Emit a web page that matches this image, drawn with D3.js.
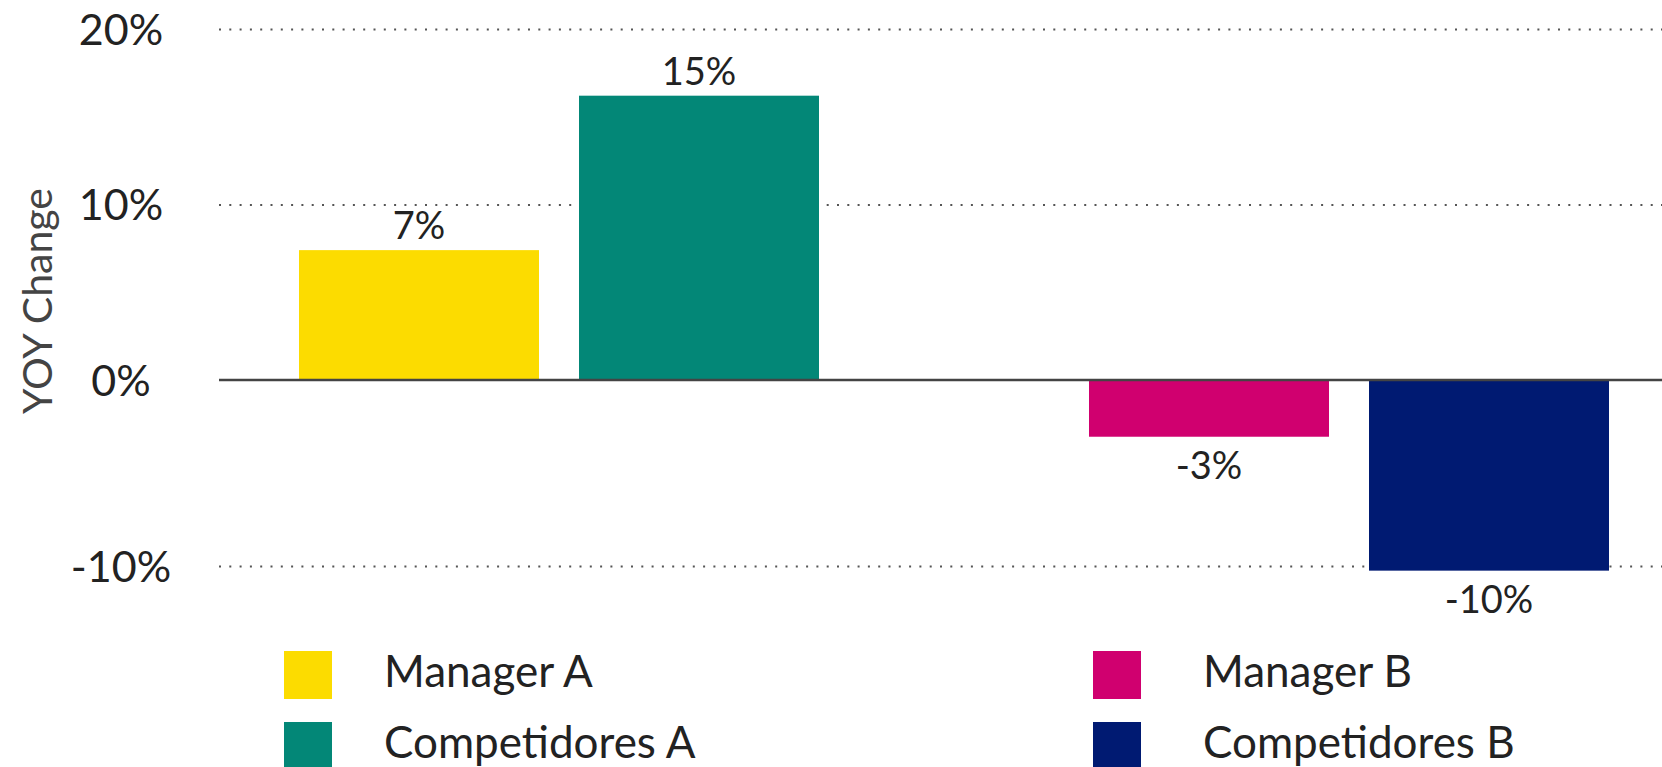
<!DOCTYPE html>
<html>
<head>
<meta charset="utf-8">
<script src="https://cdn.jsdelivr.net/npm/d3@7"></script>
<style>
  html, body { margin: 0; padding: 0; background: #fff; }
  svg { display: block; font-family: Lato, "Open Sans", sans-serif; }
</style>
</head>
<body>
<svg id="chart" width="1662" height="767"></svg>
<script>
// Chart data
const groups = ['A', 'B'];
const roles = ['Manager', 'Competidores'];
const series = ['Manager A', 'Competidores A', 'Manager B', 'Competidores B'];
const seriesGroup = ['A', 'A', 'B', 'B'];
const seriesRole = ['Manager', 'Competidores', 'Manager', 'Competidores'];
const values = [7.4, 16.2, -3.05, -10.25];
const valueLabels = ['7%', '15%', '-3%', '-10%'];
const colors = ['#FCDC00', '#038777', '#D0006F', '#001A72'];
const yTicks = [-10, 0, 10, 20];
const yTitle = 'YOY Change';

var drawChart = function () {
  let svg = d3.select('#chart');
  const width = 1662;
  const plotLeft = 219;

  // the picture's axis is not evenly spaced above/below zero
  let y = d3.scaleLinear()
            .domain([-10, 0, 20])
            .range([566, 380, 29]);

  let x0 = d3.scaleBand()
             .domain(groups)
             .range([299, 1609])
             .paddingInner(270 / 790);

  let x1 = d3.scaleBand()
             .domain(roles)
             .range([0, x0.bandwidth()])
             .paddingInner(1 / 7);

  // dotted gridlines + tick labels
  let grid = svg.append('g')
    .attr('transform', `translate(${plotLeft},0)`)
    .call(d3.axisLeft(y)
      .tickValues(yTicks)
      .tickSize(-(width - plotLeft))
      .tickFormat(d => d + '%'));
  grid.select('.domain').remove();
  grid.selectAll('.tick line')
    .attr('stroke', (d) => d === 0 ? 'none' : '#555')
    .attr('stroke-width', 2)
    .attr('stroke-dasharray', '2,8.3');
  grid.selectAll('.tick text')
    .attr('x', 121 - plotLeft)
    .attr('dy', '0.36em')
    .attr('text-anchor', 'middle')
    .attr('fill', '#222')
    .style('font-size', '43px')
    .style('font-family', 'Lato, sans-serif');

  // y axis title
  svg.append('text')
    .attr('transform', 'translate(52,301) rotate(-90)')
    .attr('text-anchor', 'middle')
    .attr('fill', '#444')
    .style('font-size', '41px')
    .text(yTitle);

  // bars
  let idx = d3.range(series.length);
  svg.selectAll('rect.bar')
    .data(idx)
    .enter().append('rect')
    .attr('class', 'bar')
    .attr('x', i => x0(seriesGroup[i]) + x1(seriesRole[i]))
    .attr('width', x1.bandwidth())
    .attr('y', i => y(Math.max(0, values[i])))
    .attr('height', i => Math.abs(y(values[i]) - y(0)))
    .attr('fill', i => colors[i]);

  // zero line on top of bars
  svg.append('line')
    .attr('x1', plotLeft).attr('x2', width)
    .attr('y1', y(0)).attr('y2', y(0))
    .attr('stroke', '#444')
    .attr('stroke-width', 2.5);

  // value labels
  svg.selectAll('text.value')
    .data(idx)
    .enter().append('text')
    .attr('class', 'value')
    .attr('x', i => x0(seriesGroup[i]) + x1(seriesRole[i]) + x1.bandwidth() / 2)
    .attr('y', i => values[i] >= 0 ? y(values[i]) - 11 : y(values[i]) + 42)
    .attr('text-anchor', 'middle')
    .attr('fill', '#222')
    .style('font-size', '38px')
    .text(i => valueLabels[i]);

  // legend: one column per group, two rows
  const legendCol = { A: [284, 384], B: [1093, 1203] };
  const legendRowTop = 651, legendRowStep = 71, swatch = 48;
  let legend = svg.selectAll('g.legend')
    .data(idx)
    .enter().append('g')
    .attr('class', 'legend')
    .attr('transform', i => {
      let row = roles.indexOf(seriesRole[i]);
      return `translate(0,${legendRowTop + row * legendRowStep})`;
    });
  legend.append('rect')
    .attr('x', i => legendCol[seriesGroup[i]][0])
    .attr('width', swatch)
    .attr('height', swatch)
    .attr('fill', i => colors[i]);
  legend.append('text')
    .attr('x', i => legendCol[seriesGroup[i]][1])
    .attr('y', swatch / 2 + 12)
    .attr('fill', '#222')
    .style('font-size', '44px')
    .text(i => series[i]);
};

document.addEventListener('DOMContentLoaded', drawChart, false);
</script>
</body>
</html>
